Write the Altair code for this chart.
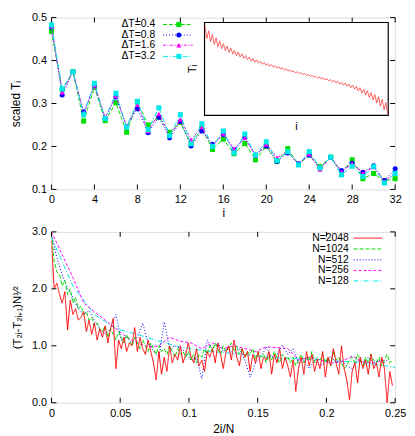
import altair as alt
import pandas as pd

# ---------------- top panel data ----------------
top_i = list(range(33))
top_labels = ["ΔT=0.4", "ΔT=0.8", "ΔT=1.6", "ΔT=3.2"]
top_dt04 = [0.468, 0.332, 0.374, 0.259, 0.338, 0.260, 0.302, 0.233, 0.303, 0.250,
            0.268, 0.233, 0.256, 0.205, 0.242, 0.193, 0.217, 0.183, 0.207, 0.169,
            0.200, 0.165, 0.195, 0.158, 0.180, 0.153, 0.175, 0.138, 0.169, 0.125,
            0.137, 0.120, 0.125]
top_dt08 = [0.478, 0.320, 0.374, 0.280, 0.342, 0.265, 0.315, 0.246, 0.288, 0.232,
            0.268, 0.220, 0.258, 0.201, 0.236, 0.205, 0.228, 0.192, 0.220, 0.180,
            0.201, 0.165, 0.185, 0.160, 0.180, 0.150, 0.175, 0.144, 0.161, 0.140,
            0.155, 0.121, 0.148]
top_dt16 = [0.480, 0.326, 0.374, 0.276, 0.343, 0.267, 0.318, 0.247, 0.297, 0.236,
            0.276, 0.225, 0.263, 0.216, 0.245, 0.200, 0.230, 0.194, 0.220, 0.178,
            0.205, 0.174, 0.188, 0.158, 0.182, 0.146, 0.175, 0.140, 0.160, 0.138,
            0.152, 0.118, 0.139]
top_dt32 = [0.483, 0.334, 0.374, 0.274, 0.347, 0.265, 0.324, 0.245, 0.305, 0.239,
            0.290, 0.225, 0.274, 0.206, 0.253, 0.200, 0.236, 0.185, 0.229, 0.180,
            0.211, 0.167, 0.188, 0.157, 0.188, 0.150, 0.175, 0.134, 0.154, 0.130,
            0.153, 0.115, 0.137]
top_xticks = [0, 4, 8, 12, 16, 20, 24, 28, 32]
top_yticks = [0.1, 0.2, 0.3, 0.4, 0.5]

# inset: T_i (even and odd sites, interleaved)
inset_even = [0.957, 0.910, 0.872, 0.835, 0.803, 0.771, 0.747, 0.723, 0.699, 0.681,
              0.663, 0.645, 0.628, 0.612, 0.598, 0.584, 0.571, 0.557, 0.546, 0.534,
              0.523, 0.512, 0.501, 0.489, 0.479, 0.470, 0.461, 0.451, 0.441, 0.432,
              0.422, 0.413, 0.404, 0.395, 0.385, 0.376, 0.366, 0.356, 0.348, 0.337,
              0.326, 0.313, 0.298, 0.282, 0.265, 0.246, 0.224, 0.200, 0.173, 0.138]
inset_odd = [0.830, 0.793, 0.766, 0.739, 0.718, 0.697, 0.679, 0.660, 0.641, 0.628,
             0.614, 0.600, 0.585, 0.573, 0.562, 0.550, 0.539, 0.528, 0.518, 0.509,
             0.498, 0.488, 0.478, 0.468, 0.457, 0.449, 0.439, 0.430, 0.420, 0.411,
             0.401, 0.391, 0.381, 0.371, 0.360, 0.348, 0.336, 0.324, 0.312, 0.297,
             0.281, 0.262, 0.240, 0.218, 0.193, 0.165, 0.133, 0.098, 0.061, 0.011]

# ---------------- bottom panel data ----------------
bot_labels = ["N=2048", "N=1024", "N=512", "N=256", "N=128"]
bot_step = [1 / 512, 1 / 512, 1 / 256, 1 / 128, 1 / 64]   # spacing in 2i/N
bot_n2048 = [2.85, 2.0, 2.1, 1.9, 1.75, 1.95, 1.28, 1.8, 1.55, 1.65,
             1.45, 1.5, 1.6, 1.25, 1.45, 1.2, 1.4, 1.1, 1.3, 1.15,
             1.35, 1.05, 1.3, 1.48, 0.6, 1.1, 0.95, 1.15, 0.9, 1.05,
             1.0, 1.32, 0.9, 1.15, 0.95, 0.85, 1.1, 0.9, 0.7, 0.4,
             0.9, 0.5, 0.8, 0.55, 1.0, 0.7, 0.85, 0.75, 1.0, 0.7,
             0.85, 1.05, 0.8, 0.7, 0.95, 0.65, 0.75, 0.55, 0.9, 0.8,
             0.95, 0.7, 1.05, 0.85, 0.6, 0.9, 1.0, 0.75, 1.1, 0.8,
             0.65, 0.95, 0.8, 0.9, 0.55, 0.85, 0.7, 0.9, 0.6, 0.8,
             0.75, 0.9, 0.5, 0.85, 0.7, 0.95, 0.6, 0.8, 0.65, 0.45,
             0.75, 0.2, 0.6, 0.8, 0.5, 0.9, 0.65, 0.85, 0.55, 0.75,
             0.6, 0.9, 0.45, 0.8, 0.65, 0.95, 0.7, 0.5, 1.0, 0.6,
             0.4, 0.05, 0.55, 0.7, 0.35, 0.8, 0.6, 0.75, 0.5, 0.85,
             0.6, 0.7, 0.45, 0.8, 0.6, 0.0, 0.55, 0.3]
bot_n1024 = [2.95, 2.5, 2.3, 2.25, 2.05, 2.15, 1.9, 2.0, 1.75, 1.85,
             1.65, 1.7, 1.55, 1.6, 1.45, 1.5, 1.35, 1.4, 1.3, 1.25,
             1.35, 1.15, 1.3, 1.2, 1.1, 1.25, 1.15, 1.05, 1.2, 1.1,
             1.0, 1.15, 1.05, 0.95, 1.1, 1.0, 0.9, 1.05, 0.95, 0.85,
             1.0, 0.9, 0.95, 0.85, 1.0, 0.9, 0.8, 0.95, 0.85, 0.9,
             0.8, 0.9, 0.75, 0.85, 0.7, 0.85, 0.8, 0.95, 0.85, 1.0,
             0.9, 1.05, 0.95, 0.85, 1.0, 0.9, 0.95, 1.05, 0.9, 1.0,
             0.85, 0.95, 0.8, 0.9, 0.85, 0.95, 0.75, 0.9, 0.8, 0.85,
             0.7, 0.85, 0.75, 0.9, 0.8, 0.7, 0.85, 0.75, 0.8, 0.7,
             0.8, 0.65, 0.75, 0.85, 0.7, 0.8, 0.75, 0.9, 0.7, 0.8,
             0.75, 0.85, 0.7, 0.8, 0.65, 0.9, 0.75, 0.8, 0.7, 0.6,
             0.65, 0.75, 0.8, 0.7, 0.85, 0.75, 0.65, 0.8, 0.7, 0.85,
             0.75, 0.7, 0.8, 0.65, 0.75, 0.85, 0.7, 0.75]
bot_n512 = [2.95, 2.55, 2.25, 2.0, 1.85, 1.65, 1.55, 1.62, 1.45, 1.3,
            1.2, 1.3, 1.55, 1.1, 1.15, 1.05, 1.15, 1.4, 1.05, 0.9,
            0.8, 1.42, 0.95, 1.0, 0.95, 0.9, 0.75, 0.8, 0.42, 1.1,
            0.95, 1.05, 0.9, 0.95, 0.85, 0.95, 0.75, 0.45, 0.7, 0.8,
            0.98, 0.8, 0.85, 1.02, 0.85, 0.95, 0.7, 0.75, 0.6, 0.75,
            0.65, 0.7, 0.82, 0.7, 0.75, 0.65, 0.6, 0.75, 0.7, 0.8,
            0.7, 0.75, 0.7, 0.8]
bot_n256 = [3.0, 2.6, 2.2, 1.75, 1.6, 1.45, 1.3, 1.15, 1.05, 0.98,
            1.0, 1.15, 1.08, 1.05, 0.95, 1.05, 0.95, 1.0, 0.95, 0.9,
            0.98, 0.97, 0.95, 0.75, 0.8, 0.75, 0.7, 0.72, 0.82, 0.72,
            0.7, 0.75]
bot_n128 = [2.9, 2.05, 1.55, 1.3, 1.2, 1.08, 0.98, 0.92, 0.88, 0.85,
            0.8, 0.78, 0.76, 0.74, 0.72, 0.68, 0.62]
bot_xticks = [0, 0.05, 0.1, 0.15, 0.2, 0.25]
bot_yticks = [0, 1, 2, 3]

# ---------------- styling ----------------
FONT = "Liberation Sans"
W = 348
H_TOP = 174
H_BOT = 173
TICK = 5
LEG_FS = 10.5

top_series = [top_dt04, top_dt08, top_dt16, top_dt32]
top_colors = ["#00dd00", "#0000ff", "#ff00ff", "#00e8e8"]
top_dash = [[4, 2], [1, 2], [3, 1.5, 1, 1.5], [5, 2, 1, 2]]
top_shapes = ["square", "circle", "triangle-up", "square"]

bot_series = [bot_n2048, bot_n1024, bot_n512, bot_n256, bot_n128]
bot_colors = ["#ff0000", "#00dd00", "#0000ff", "#ff00ff", "#00e8e8"]
bot_dash = [[1, 0], [4, 2], [1, 2], [3, 2], [5, 2, 1, 2]]


def axis_x(values, fmt, title, lpad=4, tpad=3):
    return alt.Axis(values=values, format=fmt, title=title, ticks=False, tickSize=0,
                    domain=False, grid=False, labelPadding=lpad, labelFontSize=11,
                    labelFont=FONT, titleFont=FONT, titleFontSize=12,
                    titleFontWeight="normal", titlePadding=tpad, labelColor="black",
                    titleColor="black", labelFlush=False)


def axis_y(values, fmt, title, fs=12):
    return alt.Axis(values=values, format=fmt, title=title, ticks=False, tickSize=0,
                    domain=False, grid=False, labelPadding=5, labelFontSize=11,
                    labelFont=FONT, titleFont=FONT, titleFontSize=fs,
                    titleFontWeight="normal", titlePadding=9, labelColor="black",
                    titleColor="black", labelFlush=False)


def tick_layers(xticks, yticks, xscale, yscale, xaxis, yaxis, w, h):
    dx = pd.DataFrame({"v": xticks})
    dy = pd.DataFrame({"v": yticks})
    xs = alt.X("v:Q", scale=xscale, axis=xaxis)
    ys = alt.Y("v:Q", scale=yscale, axis=yaxis)
    rule = dict(color="black", strokeWidth=1)
    return [
        alt.Chart(dx).mark_rule(**rule).encode(x=xs, y=alt.value(h), y2=alt.value(h - TICK)),
        alt.Chart(dx).mark_rule(**rule).encode(x=xs, y=alt.value(0), y2=alt.value(TICK)),
        alt.Chart(dy).mark_rule(**rule).encode(y=ys, x=alt.value(0), x2=alt.value(TICK)),
        alt.Chart(dy).mark_rule(**rule).encode(y=ys, x=alt.value(w - TICK), x2=alt.value(w)),
    ]


one = pd.DataFrame({"a": [0]})

# ---------------- top panel ----------------
tx_scale = alt.Scale(domain=[0, 32], nice=False, zero=False)
ty_scale = alt.Scale(domain=[0.1, 0.5], nice=False, zero=False)
tx_axis = axis_x(top_xticks, "d", "i")
ty_axis = axis_y(top_yticks, ".1f", "scaled Tᵢ")
top_layers = []
for k, vals in enumerate(top_series):
    df = pd.DataFrame({"i": top_i, "T": vals})
    enc = dict(
        x=alt.X("i:Q", scale=tx_scale, axis=tx_axis),
        y=alt.Y("T:Q", scale=ty_scale, axis=ty_axis),
    )
    base = alt.Chart(df)
    top_layers.append(base.mark_line(color=top_colors[k], strokeWidth=1,
                                     strokeDash=top_dash[k]).encode(**enc))
    top_layers.append(base.mark_point(color=top_colors[k], filled=True, opacity=1,
                                      shape=top_shapes[k], size=26).encode(**enc))
top_layers += tick_layers(top_xticks, top_yticks, tx_scale, ty_scale, tx_axis, ty_axis,
                          W, H_TOP)

# legend of top panel
leg_rows_top = [7, 17.7, 28, 39.3]
for k, lab in enumerate(top_labels):
    yy = leg_rows_top[k]
    top_layers.append(alt.Chart(one).mark_text(text=lab, align="right", baseline="middle",
                                               font=FONT, fontSize=LEG_FS, color="black")
                      .encode(x=alt.value(105), y=alt.value(yy)))
    top_layers.append(alt.Chart(one).mark_rule(color=top_colors[k], strokeWidth=1,
                                               strokeDash=top_dash[k])
                      .encode(x=alt.value(113), x2=alt.value(143), y=alt.value(yy)))
    top_layers.append(alt.Chart(one).mark_point(color=top_colors[k], filled=True, opacity=1,
                                                shape=top_shapes[k], size=26)
                      .encode(x=alt.value(129), y=alt.value(yy)))

# inset frame + labels
IX0, IX1, IY0, IY1 = 155, 341, 5, 99
top_layers.append(alt.Chart(one).mark_rect(fill="white", stroke="black", strokeWidth=1.2)
                  .encode(x=alt.value(IX0), x2=alt.value(IX1), y=alt.value(IY0), y2=alt.value(IY1)))
top_layers.append(alt.Chart(one).mark_text(text="Tᵢ", angle=270, font=FONT, fontSize=11,
                                           color="black", align="center", baseline="middle")
                  .encode(x=alt.value(143), y=alt.value(52)))
top_layers.append(alt.Chart(one).mark_text(text="i", font=FONT, fontSize=11, color="black",
                                           align="center", baseline="middle")
                  .encode(x=alt.value(248), y=alt.value(111)))

main_top = alt.layer(*top_layers)

inset_T = []
for a, b in zip(inset_even, inset_odd):
    inset_T += [a, b]
inset_df = pd.DataFrame({"i": list(range(len(inset_T))), "T": inset_T})
inset = alt.Chart(inset_df).mark_line(color="#ff3030", strokeWidth=1, opacity=0.75).encode(
    x=alt.X("i:Q", scale=alt.Scale(domain=[0, len(inset_T) - 1], nice=False, zero=False,
                                   range=[IX0 + 0.5, IX1 - 0.5]), axis=None),
    y=alt.Y("T:Q", scale=alt.Scale(domain=[0, 1], nice=False, zero=False,
                                   range=[IY1, IY0]), axis=None),
)

top = alt.layer(main_top, inset).resolve_scale(x="independent", y="independent").properties(
    width=W, height=H_TOP)

# ---------------- bottom panel ----------------
bx_scale = alt.Scale(domain=[0, 0.25], nice=False, zero=False)
by_scale = alt.Scale(domain=[0, 3], nice=False, zero=False)
bx_axis = axis_x(bot_xticks, "~g", "2i/N", lpad=5, tpad=5)
by_axis = axis_y(bot_yticks, ".1f", "(T₂ᵢ-T₂ᵢ₊₁)N¹⁄²", fs=11.5)
bot_layers = []
for k, vals in enumerate(bot_series):
    xs = [j * bot_step[k] for j in range(len(vals))]
    df = pd.DataFrame({"x": xs, "v": vals})
    bot_layers.append(alt.Chart(df).mark_line(color=bot_colors[k], strokeWidth=1,
                                              strokeDash=bot_dash[k], clip=True).encode(
        x=alt.X("x:Q", scale=bx_scale, axis=bx_axis),
        y=alt.Y("v:Q", scale=by_scale, axis=by_axis),
    ))
bot_layers = bot_layers[::-1]
bot_layers += tick_layers(bot_xticks, bot_yticks, bx_scale, by_scale, bx_axis, by_axis,
                          W, H_BOT)

leg_rows_bot = [6.3, 17.3, 28.3, 39, 49.7]
for k, lab in enumerate(bot_labels):
    yy = leg_rows_bot[k]
    bot_layers.append(alt.Chart(one).mark_text(text=lab, align="right", baseline="middle",
                                               font=FONT, fontSize=LEG_FS, color="black")
                      .encode(x=alt.value(301), y=alt.value(yy)))
    bot_layers.append(alt.Chart(one).mark_rule(color=bot_colors[k], strokeWidth=1,
                                               strokeDash=bot_dash[k])
                      .encode(x=alt.value(306), x2=alt.value(335), y=alt.value(yy)))

bottom = alt.layer(*bot_layers).properties(width=W, height=H_BOT)

chart = alt.vconcat(top, bottom, spacing=6).properties(
    padding={"left": 1, "top": 0, "right": 0, "bottom": 0}
).configure_view(stroke="black", strokeWidth=1).configure(font=FONT)

chart.save("out.html", embed_options={"renderer": "svg", "actions": False})
